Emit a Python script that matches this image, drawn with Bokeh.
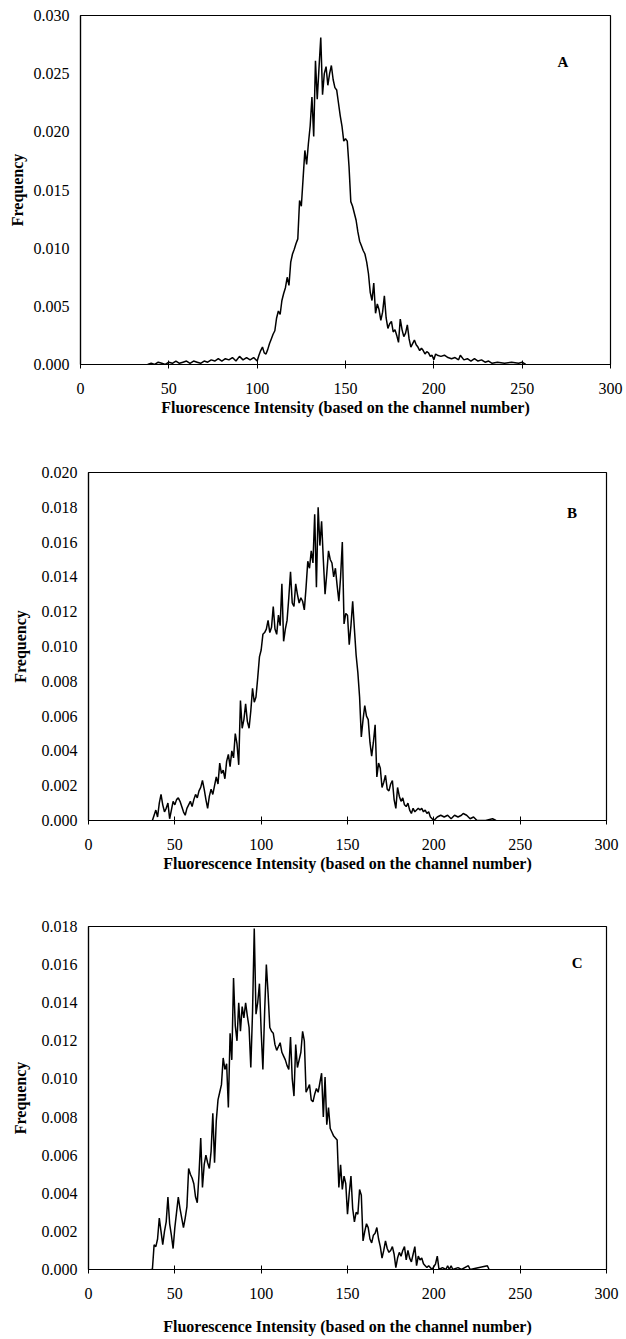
from bokeh.plotting import figure
from bokeh.layouts import column, row
from bokeh.models import FixedTicker, NumeralTickFormatter, Range1d, Label
from bokeh.embed import file_html
from bokeh.resources import INLINE

# ---------------- data ----------------
x_ticks = [0, 50, 100, 150, 200, 250, 300]

chan_A = [38, 40, 42, 44, 46, 48, 50, 52, 54, 56, 58, 60, 62, 64, 66, 68, 70, 72, 74, 76, 78, 80, 82, 84,
          86, 88, 90, 92, 94, 96, 98, 100, 101, 102, 103, 104, 105, 106, 107, 108, 109, 110, 111, 112, 113,
          114, 115, 116, 117, 118, 119, 120, 121, 122, 123, 124, 125, 126, 127, 128, 129, 130, 131, 132, 133,
          134, 135, 136, 137, 138, 139, 140, 141, 142, 143, 144, 145, 146, 147, 148, 149, 150, 151, 152, 153,
          154, 155, 156, 157, 158, 159, 160, 161, 162, 163, 164, 165, 166, 167, 168, 169, 170, 171, 172, 173,
          174, 175, 176, 177, 178, 179, 180, 181, 182, 183, 184, 185, 186, 187, 188, 189, 190, 191, 192, 193,
          194, 195, 196, 197, 198, 199, 200, 201, 202, 204, 206, 208, 210, 212, 214, 215, 217, 219, 221, 223,
          225, 227, 229, 231, 233, 236, 240, 244, 248, 250, 252]
freq_A = [0.0000, 0.0001, 0.0000, 0.0002, 0.0001, 0.0000, 0.0002, 0.0001, 0.0003, 0.0001, 0.0002, 0.0003,
          0.0001, 0.0003, 0.0002, 0.0001, 0.0003, 0.0002, 0.0004, 0.0003, 0.0005, 0.0003, 0.0005, 0.0004,
          0.0006, 0.0003, 0.0007, 0.0004, 0.0006, 0.0004, 0.0006, 0.0003, 0.0008, 0.0012, 0.0015, 0.0010,
          0.0009, 0.0013, 0.0018, 0.0022, 0.0026, 0.0029, 0.0040, 0.0046, 0.0043, 0.0055, 0.0061, 0.0066,
          0.0075, 0.0068, 0.0088, 0.0095, 0.0099, 0.0104, 0.0108, 0.0141, 0.0136, 0.0160, 0.0184, 0.0172,
          0.0190, 0.0205, 0.0230, 0.0196, 0.0261, 0.0228, 0.0255, 0.0281, 0.0232, 0.0250, 0.0256, 0.0240,
          0.0250, 0.0257, 0.0245, 0.0238, 0.0236, 0.0225, 0.0214, 0.0205, 0.0192, 0.0194, 0.0192, 0.0170,
          0.0140, 0.0136, 0.0130, 0.0124, 0.0114, 0.0106, 0.0102, 0.0098, 0.0095, 0.0088, 0.0078, 0.0062,
          0.0055, 0.0070, 0.0044, 0.0052, 0.0047, 0.0038, 0.0045, 0.0059, 0.0040, 0.0031, 0.0035, 0.0037,
          0.0028, 0.0030, 0.0025, 0.0019, 0.0039, 0.0030, 0.0024, 0.0027, 0.0034, 0.0022, 0.0015, 0.0018,
          0.0021, 0.0017, 0.0015, 0.0012, 0.0014, 0.0012, 0.0009, 0.0011, 0.0010, 0.0007, 0.0008, 0.0004,
          0.0009, 0.0008, 0.0007, 0.0008, 0.0006, 0.0005, 0.0006, 0.0004, 0.0008, 0.0004, 0.0005, 0.0003,
          0.0005, 0.0003, 0.0004, 0.0002, 0.0003, 0.0001, 0.0002, 0.0001, 0.0002, 0.0001, 0.0002, 0.0000]

chan_B = [37, 38, 39, 40, 41, 42, 43, 44, 45, 46, 47, 48, 49, 50, 51, 52, 53, 54, 55, 56, 57, 58, 59, 60,
          61, 62, 63, 64, 65, 66, 67, 68, 69, 70, 71, 72, 73, 74, 75, 76, 77, 78, 79, 80, 81, 82, 83, 84,
          85, 86, 87, 88, 89, 90, 91, 92, 93, 94, 95, 96, 97, 98, 99, 100, 101, 102, 103, 104, 105, 106,
          107, 108, 109, 110, 111, 112, 113, 114, 115, 116, 117, 118, 119, 120, 121, 122, 123, 124, 125,
          126, 127, 128, 129, 130, 131, 132, 133, 134, 135, 136, 137, 138, 139, 140, 141, 142, 143, 144,
          145, 146, 147, 148, 149, 150, 151, 152, 153, 154, 155, 156, 157, 158, 159, 160, 161, 162, 163,
          164, 165, 166, 167, 168, 169, 170, 171, 172, 173, 174, 175, 176, 177, 178, 179, 180, 181, 182,
          183, 184, 185, 186, 187, 188, 189, 190, 191, 192, 193, 194, 195, 196, 197, 198, 199, 200, 202,
          204, 206, 208, 210, 212, 214, 216, 217, 219, 221, 223, 225, 230, 234, 236]
freq_B = [0.0000, 0.0003, 0.0006, 0.0002, 0.0010, 0.0015, 0.0009, 0.0005, 0.0007, 0.0010, 0.0001, 0.0006,
          0.0011, 0.0009, 0.0012, 0.0013, 0.0011, 0.0008, 0.0005, 0.0003, 0.0007, 0.0009, 0.0011, 0.0008,
          0.0012, 0.0015, 0.0013, 0.0017, 0.0019, 0.0023, 0.0018, 0.0012, 0.0007, 0.0014, 0.0018, 0.0015,
          0.0020, 0.0025, 0.0021, 0.0033, 0.0027, 0.0029, 0.0024, 0.0034, 0.0038, 0.0031, 0.0040, 0.0036,
          0.0050, 0.0044, 0.0032, 0.0069, 0.0053, 0.0058, 0.0067, 0.0057, 0.0053, 0.0063, 0.0076, 0.0068,
          0.0071, 0.0082, 0.0094, 0.0098, 0.0107, 0.0108, 0.0110, 0.0115, 0.0108, 0.0111, 0.0123, 0.0110,
          0.0107, 0.0118, 0.0112, 0.0136, 0.0103, 0.0110, 0.0115, 0.0128, 0.0143, 0.0125, 0.0123, 0.0136,
          0.0130, 0.0125, 0.0128, 0.0126, 0.0121, 0.0134, 0.0149, 0.0145, 0.0155, 0.0148, 0.0176, 0.0134,
          0.0180, 0.0158, 0.0172, 0.0150, 0.0130, 0.0142, 0.0155, 0.0150, 0.0148, 0.0140, 0.0145, 0.0135,
          0.0126, 0.0140, 0.0160, 0.0113, 0.0119, 0.0118, 0.0101, 0.0112, 0.0126, 0.0110, 0.0095, 0.0085,
          0.0071, 0.0048, 0.0058, 0.0066, 0.0060, 0.0058, 0.0045, 0.0037, 0.0045, 0.0055, 0.0025, 0.0033,
          0.0030, 0.0019, 0.0022, 0.0026, 0.0018, 0.0017, 0.0021, 0.0023, 0.0012, 0.0007, 0.0019, 0.0014,
          0.0011, 0.0013, 0.0009, 0.0008, 0.0010, 0.0006, 0.0004, 0.0007, 0.0005, 0.0006, 0.0007, 0.0006,
          0.0007, 0.0005, 0.0006, 0.0004, 0.0005, 0.0002, 0.0001, 0.0000, 0.0002, 0.0003, 0.0002, 0.0003,
          0.0001, 0.0003, 0.0002, 0.0003, 0.0004, 0.0003, 0.0001, 0.0002, 0.0000, 0.0000, 0.0001, 0.0000]

chan_C = [36, 37, 38, 39, 40, 41, 42, 43, 44, 45, 46, 47, 48, 49, 50, 51, 52, 53, 54, 55, 56, 57, 58, 59,
          60, 61, 62, 63, 64, 65, 66, 67, 68, 69, 70, 71, 72, 73, 74, 75, 76, 77, 78, 79, 80, 81, 82, 83,
          84, 85, 86, 87, 88, 89, 90, 91, 92, 93, 94, 95, 96, 97, 98, 99, 100, 101, 102, 103, 104, 105,
          106, 107, 108, 109, 110, 111, 112, 113, 114, 115, 116, 117, 118, 119, 120, 121, 122, 123, 124,
          125, 126, 127, 128, 129, 130, 131, 132, 133, 134, 135, 136, 137, 138, 139, 140, 141, 142, 143,
          144, 145, 146, 147, 148, 149, 150, 151, 152, 153, 154, 155, 156, 157, 158, 159, 160, 161, 162,
          163, 164, 165, 166, 167, 168, 169, 170, 171, 172, 173, 174, 175, 176, 177, 178, 179, 180, 181,
          182, 183, 184, 185, 186, 187, 188, 189, 190, 191, 192, 193, 194, 195, 196, 197, 199, 201, 202,
          203, 205, 207, 208, 209, 210, 211, 214, 216, 220, 221, 231, 232]
freq_C = [0.0000, 0.0000, 0.0013, 0.0012, 0.0016, 0.0027, 0.0020, 0.0013, 0.0020, 0.0025, 0.0038, 0.0024,
          0.0018, 0.0011, 0.0022, 0.0030, 0.0038, 0.0032, 0.0027, 0.0022, 0.0027, 0.0033, 0.0053, 0.0050,
          0.0048, 0.0045, 0.0038, 0.0035, 0.0050, 0.0069, 0.0043, 0.0055, 0.0060, 0.0056, 0.0053, 0.0062,
          0.0082, 0.0056, 0.0078, 0.0089, 0.0093, 0.0097, 0.0111, 0.0105, 0.0108, 0.0085, 0.0124, 0.0110,
          0.0153, 0.0128, 0.0120, 0.0140, 0.0125, 0.0138, 0.0132, 0.0140, 0.0133, 0.0127, 0.0106, 0.0135,
          0.0179, 0.0134, 0.0140, 0.0150, 0.0125, 0.0105, 0.0135, 0.0160, 0.0145, 0.0127, 0.0125, 0.0124,
          0.0118, 0.0115, 0.0117, 0.0119, 0.0114, 0.0112, 0.0110, 0.0107, 0.0105, 0.0122, 0.0100, 0.0091,
          0.0118, 0.0106, 0.0110, 0.0114, 0.0125, 0.0120, 0.0093, 0.0095, 0.0097, 0.0089, 0.0088, 0.0092,
          0.0095, 0.0093, 0.0098, 0.0103, 0.0080, 0.0101, 0.0076, 0.0085, 0.0074, 0.0072, 0.0070, 0.0069,
          0.0068, 0.0043, 0.0055, 0.0042, 0.0049, 0.0045, 0.0029, 0.0040, 0.0049, 0.0032, 0.0025, 0.0030,
          0.0029, 0.0042, 0.0039, 0.0015, 0.0020, 0.0024, 0.0022, 0.0016, 0.0014, 0.0018, 0.0019, 0.0022,
          0.0016, 0.0012, 0.0006, 0.0010, 0.0015, 0.0011, 0.0009, 0.0010, 0.0012, 0.0008, 0.0001, 0.0006,
          0.0009, 0.0007, 0.0010, 0.0012, 0.0005, 0.0010, 0.0006, 0.0004, 0.0008, 0.0012, 0.0002, 0.0007,
          0.0005, 0.0006, 0.0003, 0.0002, 0.0001, 0.0002, 0.0000, 0.0003, 0.0007, 0.0000, 0.0001, 0.0000,
          0.0002, 0.0000, 0.0002, 0.0000, 0.0001, 0.0000, 0.0002, 0.0000, 0.0002, 0.0000]

y_ticks_A = [0.000, 0.005, 0.010, 0.015, 0.020, 0.025, 0.030]
y_ticks_B = [0.000, 0.002, 0.004, 0.006, 0.008, 0.010, 0.012, 0.014, 0.016, 0.018, 0.020]
y_ticks_C = [0.000, 0.002, 0.004, 0.006, 0.008, 0.010, 0.012, 0.014, 0.016, 0.018]

x_title = "Fluorescence Intensity (based on the channel number)"
y_title = "Frequency"
FONT = "Liberation Serif"


def make_panel(chan, freq, yticks, ymax, letter, lx, ly, width, height,
               b_left, b_right, b_top, b_bottom, ylab_standoff, xlab_standoff):
    p = figure(width=width, height=height, output_backend="svg", toolbar_location=None,
               x_range=Range1d(0, 300), y_range=Range1d(0, ymax),
               frame_width=width - b_left - b_right, frame_height=height - b_top - b_bottom,
               min_border_left=b_left, min_border_right=b_right,
               min_border_top=b_top, min_border_bottom=b_bottom)
    p.xgrid.visible = False
    p.ygrid.visible = False
    p.outline_line_color = "black"
    p.outline_line_width = 1.2
    p.line(chan, freq, line_color="black", line_width=1.5)

    p.xaxis.ticker = FixedTicker(ticks=x_ticks)
    p.yaxis.ticker = FixedTicker(ticks=yticks)
    p.yaxis.formatter = NumeralTickFormatter(format="0.000")
    for ax in (p.xaxis[0], p.yaxis[0]):
        ax.axis_line_color = "black"
        ax.axis_line_width = 1.2
        ax.major_label_text_font = FONT
        ax.major_label_text_font_size = "16px"
        ax.major_label_text_color = "black"
        ax.axis_label_text_font = FONT
        ax.axis_label_text_font_size = "16px"
        ax.axis_label_text_font_style = "bold"
        ax.axis_label_text_color = "black"
        ax.minor_tick_line_color = None
    p.xaxis.major_tick_in = 4
    p.xaxis.major_tick_out = 4
    p.xaxis.major_tick_line_color = "black"
    p.xaxis.major_label_standoff = 14
    p.xaxis.axis_label = x_title
    p.xaxis.axis_label_standoff = xlab_standoff
    p.yaxis.major_tick_in = 0
    p.yaxis.major_tick_out = 0
    p.yaxis.major_label_standoff = 11
    p.yaxis.axis_label = y_title
    p.yaxis.axis_label_standoff = ylab_standoff

    p.add_layout(Label(x=lx, y=ly, text=letter, text_font=FONT, text_font_size="15px",
                       text_font_style="bold", text_color="black",
                       text_align="center", text_baseline="middle"))
    return p


pA = make_panel(chan_A, freq_A, y_ticks_A, 0.030, "A", 273, 0.026, 626, 430,
                80, 16, 15, 66, 5, 2)
pB = make_panel(chan_B, freq_B, y_ticks_B, 0.020, "B", 280, 0.0177, 626, 450,
                88, 20, 42, 60, 10, 2)
pC = make_panel(chan_C, freq_C, y_ticks_C, 0.018, "C", 283, 0.0161, 626, 459,
                88, 20, 46, 70, 10, 16)

layout = column(row(pA), row(pB), row(pC), spacing=0)
open("out.html", "w").write(file_html(layout, INLINE))
